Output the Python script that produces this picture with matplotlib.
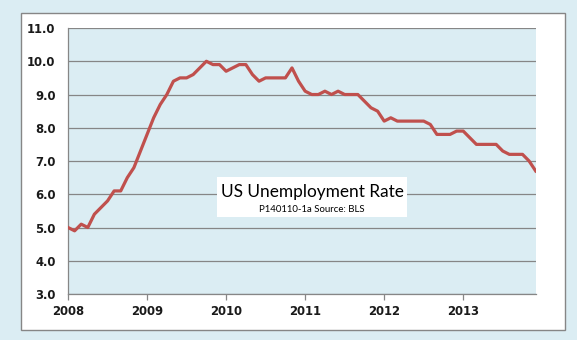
import numpy as np
import matplotlib.pyplot as plt
from matplotlib.patches import Rectangle

# monthly unemployment rate, Jan 2008 - Dec 2013
rate_2008 = [5.0, 4.9, 5.1, 5.0, 5.4, 5.6, 5.8, 6.1, 6.1, 6.5, 6.8, 7.3]
rate_2009 = [7.8, 8.3, 8.7, 9.0, 9.4, 9.5, 9.5, 9.6, 9.8, 10.0, 9.9, 9.9]
rate_2010 = [9.7, 9.8, 9.9, 9.9, 9.6, 9.4, 9.5, 9.5, 9.5, 9.5, 9.8, 9.4]
rate_2011 = [9.1, 9.0, 9.0, 9.1, 9.0, 9.1, 9.0, 9.0, 9.0, 8.8, 8.6, 8.5]
rate_2012 = [8.2, 8.3, 8.2, 8.2, 8.2, 8.2, 8.2, 8.1, 7.8, 7.8, 7.8, 7.9]
rate_2013 = [7.9, 7.7, 7.5, 7.5, 7.5, 7.5, 7.3, 7.2, 7.2, 7.2, 7.0, 6.7]
years = ['2008', '2009', '2010', '2011', '2012', '2013']
y_ticks = [3.0, 4.0, 5.0, 6.0, 7.0, 8.0, 9.0, 10.0, 11.0]

rate = rate_2008 + rate_2009 + rate_2010 + rate_2011 + rate_2012 + rate_2013
months = np.arange(len(rate))

bg = '#dbedf3'
grey = '#868686'

fig = plt.figure(figsize=(5.77, 3.40), dpi=100, facecolor=bg)

# white chart area with grey frame
fig.patches.append(Rectangle((0.036, 0.029), 0.943, 0.933, transform=fig.transFigure,
                             facecolor='white', edgecolor=grey, linewidth=1.0, zorder=-1))

ax = fig.add_axes([0.1179, 0.1353, 0.8105, 0.7823])
ax.set_zorder(1)
ax.set_facecolor(bg)
ax.plot(months, rate, color='#c0504d', linewidth=2.3, solid_joinstyle='round', zorder=3)

ax.set_xlim(0, len(rate) - 1)
ax.set_ylim(3, 11)
ax.set_yticks(y_ticks)
ax.set_yticklabels([f'{v:.1f}' for v in y_ticks])
ax.set_xticks(np.arange(0, len(rate), 12))
ax.set_xticklabels(years)

ax.grid(axis='y', color=grey, linewidth=0.9)
ax.set_axisbelow(True)
for s in ['top', 'right']:
    ax.spines[s].set_visible(False)
for s in ['left', 'bottom']:
    ax.spines[s].set_color(grey)
    ax.spines[s].set_linewidth(0.9)

ax.tick_params(axis='y', length=0, pad=9)
ax.tick_params(axis='x', length=4, width=0.9, color=grey, pad=4)
for lab in ax.get_xticklabels() + ax.get_yticklabels():
    lab.set_fontweight('bold')
    lab.set_fontsize(8.4)
    lab.set_color('#1a1a1a')

# title box inside the plot
ax.add_patch(Rectangle((217 / 577, 1 - 217 / 340), 190 / 577, 40 / 340,
                       transform=fig.transFigure, facecolor='white',
                       edgecolor='none', zorder=5))
ax.text(0.5407, 0.4206, 'US Unemployment Rate', ha='center', va='baseline',
        fontsize=12.4, family='Lato', color='black', zorder=6, transform=fig.transFigure)
ax.text(0.5407, 0.3774, 'P140110-1a Source: BLS', ha='center', va='baseline',
        fontsize=6.9, family='Lato', color='black', zorder=6, transform=fig.transFigure)

fig.savefig('out.png', dpi=100, facecolor=bg)
